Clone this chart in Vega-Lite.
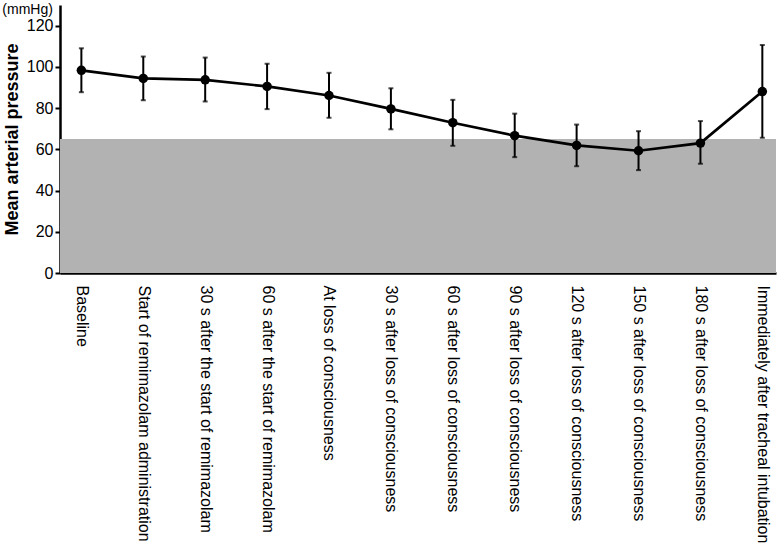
{
  "$schema": "https://vega.github.io/schema/vega-lite/v6.json",
  "width": 716,
  "height": 268,
  "padding": {"left": 2, "top": 3, "right": 2, "bottom": 5},
  "background": "white",
  "title": {"text": "(mmHg)", "anchor": "start", "frame": "bounds", "orient": "top", "fontSize": 14, "font": "Liberation Sans", "fontWeight": "normal", "color": "black", "offset": -12, "dx": -1},
  "config": {"view": {"stroke": null}, "font": "Liberation Sans"},
  "data": {"values": [
    {"time": "Baseline", "mean": 98.3, "lo": 87.7, "hi": 109.0},
    {"time": "Start of remimazolam administration", "mean": 94.4, "lo": 83.8, "hi": 105.0},
    {"time": "30 s after the start of remimazolam", "mean": 93.7, "lo": 83.2, "hi": 104.5},
    {"time": "60 s after the start of remimazolam", "mean": 90.5, "lo": 79.5, "hi": 101.5},
    {"time": "At loss of consciousness", "mean": 86.1, "lo": 75.3, "hi": 97.1},
    {"time": "30 s after loss of consciousness", "mean": 79.6, "lo": 69.7, "hi": 89.6},
    {"time": "60 s after loss of consciousness", "mean": 72.9, "lo": 61.7, "hi": 84.0},
    {"time": "90 s after loss of consciousness", "mean": 66.6, "lo": 56.2, "hi": 77.3},
    {"time": "120 s after loss of consciousness", "mean": 61.9, "lo": 51.8, "hi": 72.0},
    {"time": "150 s after loss of consciousness", "mean": 59.3, "lo": 49.9, "hi": 68.8},
    {"time": "180 s after loss of consciousness", "mean": 63.0, "lo": 53.0, "hi": 73.7},
    {"time": "Immediately after tracheal intubation", "mean": 88.0, "lo": 65.6, "hi": 110.6}
  ]},
  "encoding": {
    "x": {"field": "time", "type": "nominal", "sort": null,
      "scale": {"type": "point", "padding": 0.283, "align": 0.61},
      "axis": {"title": null, "labelAngle": 90, "labelAlign": "left", "labelBaseline": "middle", "ticks": false, "labelPadding": 12, "labelFontSize": 16, "labelColor": "black", "labelFont": "Liberation Sans", "domainColor": "black", "domainWidth": 2.5, "labelLimit": 400}}
  },
  "layer": [
    {"mark": {"type": "rect", "color": "#b2b2b2"},
     "encoding": {"x": null, "y": {"datum": 65, "type": "quantitative"}, "y2": {"datum": 0}}},
    {"mark": {"type": "rule", "color": "black", "strokeWidth": 2},
     "encoding": {"y": {"field": "lo", "type": "quantitative"}, "y2": {"field": "hi"}}},
    {"mark": {"type": "tick", "color": "black", "thickness": 2, "size": 5, "orient": "horizontal"},
     "encoding": {"y": {"field": "lo", "type": "quantitative"}}},
    {"mark": {"type": "tick", "color": "black", "thickness": 2, "size": 5, "orient": "horizontal"},
     "encoding": {"y": {"field": "hi", "type": "quantitative"}}},
    {"mark": {"type": "line", "color": "black", "strokeWidth": 2.7},
     "encoding": {"y": {"field": "mean", "type": "quantitative",
        "scale": {"domain": [0, 130], "nice": false},
        "axis": {"title": "Mean arterial pressure", "titleFontSize": 18, "titleFontWeight": "bold", "titleColor": "black", "titlePadding": 5, "values": [0, 20, 40, 60, 80, 100, 120], "labelFontSize": 16, "labelColor": "black", "labelFontWeight": "normal", "tickColor": "black", "tickWidth": 2, "tickSize": 5, "domainColor": "black", "domainWidth": 2.5, "grid": false, "labelPadding": 2}}}},
    {"mark": {"type": "point", "filled": true, "color": "black", "size": 90, "opacity": 1},
     "encoding": {"y": {"field": "mean", "type": "quantitative"}}}
  ],
  "resolve": {"scale": {"y": "shared"}}
}
